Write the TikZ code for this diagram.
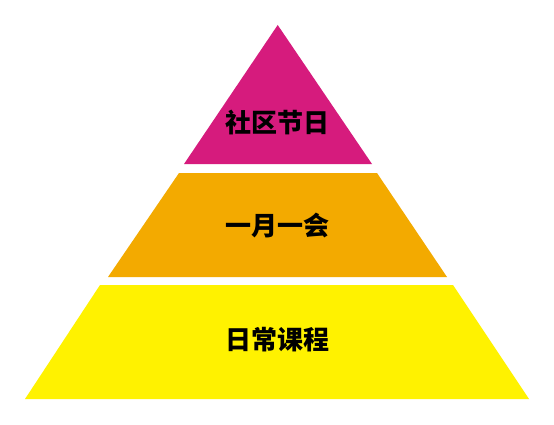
\documentclass[tikz,border=0pt]{standalone}
\usepackage{fontspec}
\newfontfamily\cjk{Noto Sans CJK SC}
\definecolor{topc}{RGB}{214,27,125}
\definecolor{midc}{RGB}{243,170,0}
\definecolor{botc}{RGB}{255,242,0}
\begin{document}
\begin{tikzpicture}[x=1pt,y=-1pt,
  lbl/.style={font=\cjk\bfseries\fontsize{26}{26}\selectfont, text=black, inner sep=0pt}]
\useasboundingbox (0,0) rectangle (554,425);
\fill[white] (0,0) rectangle (554,425);
\fill[topc] (277.7,25) -- (372,164) -- (184,164) -- cycle;
\fill[midc] (179,173) -- (377,173) -- (447,277) -- (108,277) -- cycle;
\fill[botc] (100,285) -- (453,285) -- (529,399) -- (25,399) -- cycle;
\node[lbl] (t1) at (277,122.5) {社区节日};
\node[lbl] (t2) at (277,226) {一月一会};
\node[lbl] (t3) at (277,340) {日常课程};
\end{tikzpicture}
\end{document}
